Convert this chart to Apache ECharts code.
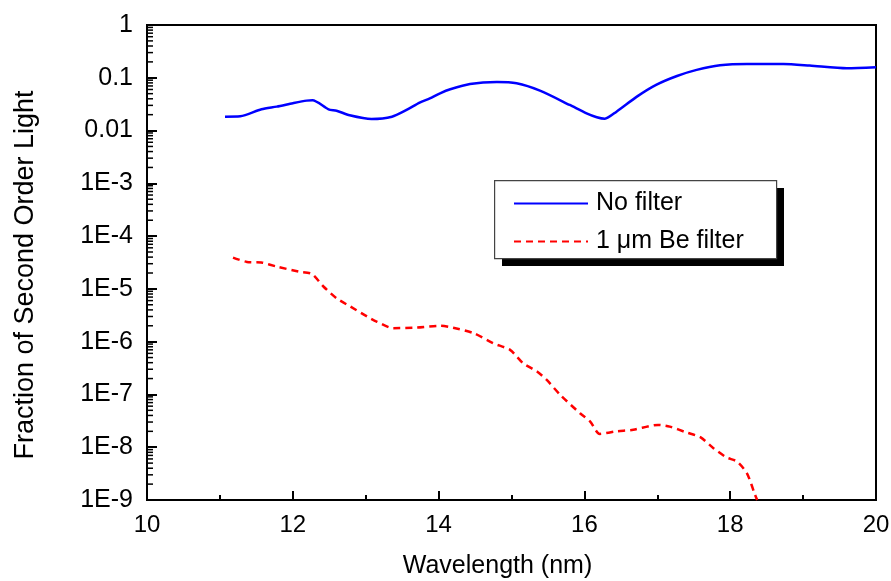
<!DOCTYPE html>
<html>
<head>
<meta charset="utf-8">
<script src="https://cdn.jsdelivr.net/npm/echarts@6/dist/echarts.min.js"></script>
<style>html,body{margin:0;padding:0;background:#fff}#c{width:891px;height:581px}</style>
</head>
<body>
<div id="c"></div>
<script>
// ---- data (wavelength nm, fraction) ----
const noFilterX = [11.07,11.28,11.57,11.78,12.0,12.19,12.27,12.49,12.60,12.78,13.08,13.36,13.56,13.74,13.88,14.02,14.16,14.43,14.80,15.07,15.39,15.80,16.03,16.17,16.28,16.44,16.72,16.99,17.27,17.54,17.86,18.23,18.73,19.09,19.60,20.0];
const noFilterY = [0.0183,0.0186,0.0253,0.0284,0.0329,0.0369,0.0375,0.0253,0.0238,0.0195,0.0166,0.0183,0.0246,0.0338,0.0409,0.0508,0.0605,0.0763,0.0832,0.0786,0.057,0.0305,0.0212,0.0179,0.0168,0.0228,0.0439,0.074,0.108,0.141,0.172,0.182,0.182,0.170,0.151,0.158];
const beFilterX = [11.18,11.37,11.57,11.78,12.08,12.26,12.42,12.60,12.79,13.02,13.15,13.38,13.70,14.02,14.20,14.48,14.75,14.98,15.16,15.35,15.48,15.67,15.94,16.08,16.21,16.44,16.67,17.01,17.17,17.40,17.59,17.77,17.95,18.09,18.23,18.34,18.37];
const beFilterY = [3.92e-5,3.24e-5,3.16e-5,2.65e-5,2.13e-5,1.92e-5,1.11e-5,6.66e-6,4.62e-6,2.99e-6,2.40e-6,1.80e-6,1.85e-6,2.0e-6,1.83e-6,1.45e-6,9.3e-7,7.0e-7,3.9e-7,2.72e-7,1.9e-7,9.8e-8,4.4e-8,3.07e-8,1.79e-8,2.0e-8,2.14e-8,2.65e-8,2.46e-8,1.9e-8,1.55e-8,9.6e-9,6.4e-9,5.4e-9,3.2e-9,1.26e-9,1.0e-9];
const seriesNames = ['No filter', '1 \u03bcm Be filter'];
const xTicks = [10, 12, 14, 16, 18, 20];
const yTickLabels = {'0':'1','-1':'0.1','-2':'0.01','-3':'1E-3','-4':'1E-4','-5':'1E-5','-6':'1E-6','-7':'1E-7','-8':'1E-8','-9':'1E-9'};
const yMinorMantissas = [2,3,4,5,6,7,8,9];
const yDecades = [-9,-8,-7,-6,-5,-4,-3,-2,-1];

const FONT = 'Liberation Sans';
const minorTicks = [];
yDecades.forEach(e => yMinorMantissas.forEach(m => minorTicks.push([10, m * Math.pow(10, e)])));

const chart = echarts.init(document.getElementById('c'));
chart.setOption({
  animation: false,
  backgroundColor: '#fff',
  grid: {left: 147, top: 25, right: 15, bottom: 81, outerBoundsMode: 'none', containLabel: false,
         show: true, borderColor: '#000', borderWidth: 2, backgroundColor: 'transparent'},
  xAxis: {
    type: 'value', min: xTicks[0], max: xTicks[xTicks.length - 1], interval: 2,
    name: 'Wavelength (nm)', nameLocation: 'middle', nameGap: 54,
    nameTextStyle: {fontFamily: FONT, fontSize: 25, color: '#000', padding: [0, 28, 0, 0]},
    axisLine: {lineStyle: {color: '#000', width: 2}},
    axisTick: {inside: true, length: 9, lineStyle: {color: '#000', width: 2}},
    minorTick: {show: true, splitNumber: 2, length: 5, lineStyle: {color: '#000', width: 2}},
    splitLine: {show: false},
    axisLabel: {fontFamily: FONT, fontSize: 24, color: '#000', margin: 13}
  },
  yAxis: {
    type: 'log', logBase: 10, min: 1e-9, max: 1, interval: 1,
    name: 'Fraction of Second Order Light', nameLocation: 'middle', nameGap: 108, nameRotate: 90,
    nameTextStyle: {fontFamily: FONT, fontSize: 27, color: '#000', padding: [0, 25, 0, 0]},
    axisLine: {lineStyle: {color: '#000', width: 2}},
    axisTick: {inside: true, length: 10, lineStyle: {color: '#000', width: 2}},
    splitLine: {show: false},
    axisLabel: {
      fontFamily: FONT, fontSize: 25, color: '#000', margin: 14,
      formatter: v => yTickLabels[String(Math.round(Math.log10(v)))] || ''
    }
  },
  legend: {
    data: seriesNames, orient: 'vertical', left: 508, top: 186, z: 100,
    itemWidth: 74, itemHeight: 14, itemGap: 13,
    itemStyle: {opacity: 0},
    textStyle: {fontFamily: FONT, fontSize: 25, color: '#000', padding: [0, 0, 0, 3]},
    selectedMode: false
  },
  graphic: [
    {type: 'rect', left: 502, top: 188, shape: {width: 282, height: 78}, style: {fill: '#000'}, z: 90},
    {type: 'rect', left: 494, top: 180, shape: {width: 282, height: 78}, style: {fill: '#fff', stroke: '#444', lineWidth: 1.2}, z: 91}
  ],
  series: [
    {
      name: seriesNames[0], type: 'line', showSymbol: false, symbol: 'none', smooth: 0.25,
      data: noFilterX.map((x, i) => [x, noFilterY[i]]),
      lineStyle: {color: '#0000ff', width: 2.5}, itemStyle: {color: '#0000ff'}
    },
    {
      name: seriesNames[1], type: 'line', showSymbol: false, symbol: 'none', smooth: 0.25,
      data: beFilterX.map((x, i) => [x, beFilterY[i]]),
      lineStyle: {color: '#ff0000', width: 2.5, type: [7, 5]}, itemStyle: {color: '#ff0000'}
    },
    {
      type: 'custom', silent: true, clip: false, data: minorTicks,
      renderItem: (params, api) => {
        const p = api.coord([api.value(0), api.value(1)]);
        return {type: 'line', shape: {x1: p[0], y1: p[1], x2: p[0] + 6, y2: p[1]}, style: {stroke: '#000', lineWidth: 1.5}};
      }
    }
  ]
});
</script>
</body>
</html>
